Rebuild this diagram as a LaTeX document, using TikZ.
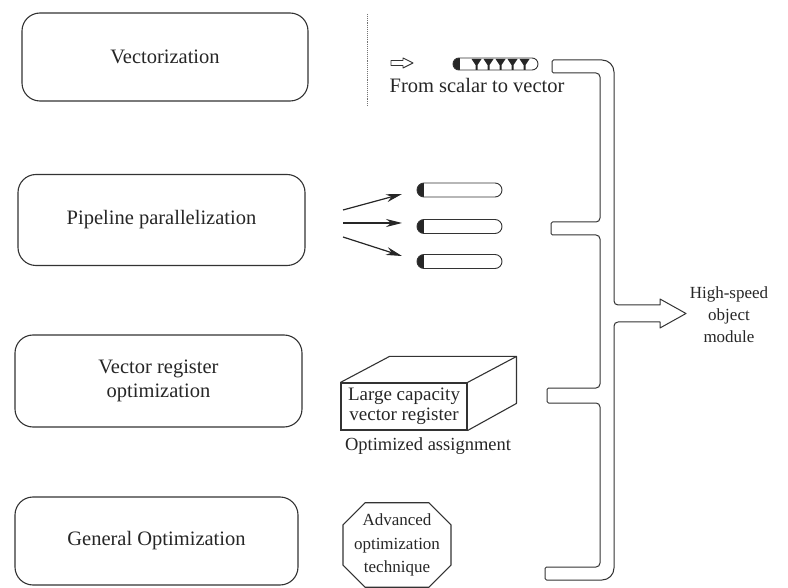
\documentclass[tikz,border=0pt]{standalone}
\usepackage{fontspec}
\setmainfont{Liberation Serif}
\usetikzlibrary{arrows.meta,shapes.misc,calc}
\begin{document}
\begin{tikzpicture}[x=1pt,y=-1pt,
  ink/.style={draw=black!80, line width=1.1pt},
  stage/.style={ink, rounded corners=18pt, align=center,
    font=\fontsize{20.5}{24}\selectfont, text=black!85, inner sep=0pt},
  lbl/.style={font=\fontsize{19}{22.5}\selectfont, text=black!85, align=center, inner sep=0pt},
  tube/.style={ink, line width=0.9pt, rounded rectangle, minimum width=85pt,
    minimum height=14pt, inner sep=0pt,
    path picture={\fill[black!85] (path picture bounding box.north west)
      rectangle ([xshift=7pt]path picture bounding box.south west);}},
  feed/.style={line width=1.2pt, draw=black!85, -{Stealth[length=16pt,width=8pt]}},
  funnel/.style={fill=black!85}
]
\useasboundingbox (0,0) rectangle (788,588);

% stage boxes on the left
\node[stage, minimum width=286pt, minimum height=88pt] (vec) at (165,57) {Vectorization};
\node[stage, minimum width=287pt, minimum height=91pt] (pipe) at (161.5,220) {Pipeline parallelization};
\node[stage, minimum width=287pt, minimum height=92pt] (vreg) at (158.5,381) {Vector register\\optimization};
\node[stage, minimum width=283pt, minimum height=88pt] (gen) at (156.5,541) {General Optimization};

% scalar to vector
\coordinate (dtop) at (367,14);
\coordinate (dbot) at (367,106);
\draw[black!55, line width=0.9pt, densely dotted] (dtop) -- (dbot);
\coordinate (ha) at (391,63);
\draw[ink, line width=0.9pt, line join=round]
  (ha) ++(0,-2.5) -- ++(12,0) -- ++(0,-2.5) -- ++(10,5) -- ++(-10,5) -- ++(0,-2.5) -- ++(-12,0) -- cycle;
\node[tube, minimum height=12pt] (vbar) at (495.5,64) {};
\foreach \i in {0,...,4}{
  \fill[funnel] ($(vbar.west)+(19+12*\i,-5)$) -- ++(10,0) -- ++(-4,6) -- ++(0,5) -- ++(-2,0) -- ++(0,-5) -- cycle;
}
\node[lbl, font=\fontsize{20.5}{24}\selectfont] (sv) at (477,85) {From scalar to vector};

% pipelines
\node[tube] (t1) at (459.5,190) {};
\node[tube] (t2) at (459.5,226.5) {};
\node[tube] (t3) at (459.5,261.5) {};
\coordinate (s1) at (343,210);
\coordinate (s2) at (343,223);
\coordinate (s3) at (343,237);
\coordinate (e1) at (402,194);
\coordinate (e2) at (402,223);
\coordinate (e3) at (402,256);
\draw[feed] (s1) -- (e1);
\draw[feed] (s2) -- (e2);
\draw[feed] (s3) -- (e3);

% vector register block
\node[ink, lbl, minimum width=126pt, minimum height=47pt, font=\fontsize{19}{20.5}\selectfont] (reg) at (404,406.5) {Large capacity\\vector register};
\draw[ink, line join=round] (reg.north west) -- ++(49,-26) -- ++(127,0) -- ++(0,47) -- (reg.south east);
\draw[ink] (reg.north east) -- ++(49,-26);
\node[lbl, font=\fontsize{18.5}{22}\selectfont] (asg) at (428,446) {Optimized assignment};

% advanced optimization
\node[ink, lbl, chamfered rectangle, chamfered rectangle xsep=11pt, chamfered rectangle ysep=11pt,
  minimum width=96pt, minimum height=80pt, font=\fontsize{17}{23.5}\selectfont] (adv) at (397,545) {Advanced\\optimization\\technique};

% collecting bracket with output arrow
\def\L{600}\def\R{614}
\draw[ink, line width=1pt, line join=round]
  (552,60) [rounded corners=12pt] -- (\R,60) [rounded corners=4pt] -- (\R,305)
  [sharp corners] -- (660,305) -- (660,299) -- (686,313.5) -- (660,328) -- (660,322)
  [rounded corners=4pt] -- (\R,322) [rounded corners=12pt] -- (\R,580)
  [rounded corners=1.5pt] -- (545,580) -- (545,567) [rounded corners=4pt] -- (\L,567)
  -- (\L,403) [rounded corners=1.5pt] -- (547,403) -- (547,388) [rounded corners=4pt] -- (\L,388)
  -- (\L,235) [rounded corners=1.5pt] -- (551,235) -- (551,222) [rounded corners=4pt] -- (\L,222)
  -- (\L,73) [rounded corners=1.5pt] -- (552,73) -- cycle;
\node[lbl, font=\fontsize{17}{22}\selectfont] (out) at (729,315) {High-speed\\object\\module};
\end{tikzpicture}
\end{document}
